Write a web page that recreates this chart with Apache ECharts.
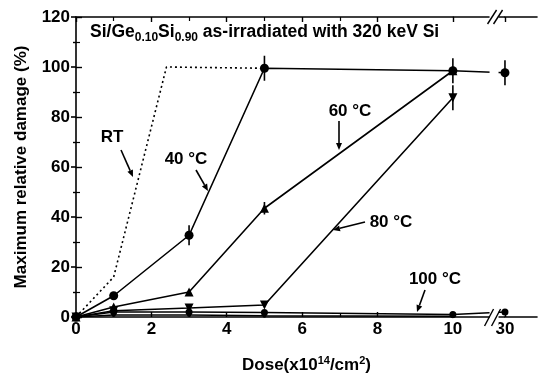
<!DOCTYPE html>
<html><head><meta charset="utf-8">
<script src="https://cdn.jsdelivr.net/npm/echarts@6/dist/echarts.min.js"></script>
<style>html,body{margin:0;padding:0;background:#fff}#c{width:539px;height:380px}</style>
</head><body><div id="c"></div>
<script>
// ---- data ----
const doses = [0, 1, 3, 5, 10, 30];
const rtDose = [0, 1, 2.4, 5];
const rtDamage = [0, 16, 100, 99.5];
const d40 = [0, 8.5, 32.7, 99.5, 98.5, 97.7];
const e40 = [0, 0, 4, 5, 5, 5];
const dose60 = [0, 1, 3, 5, 10];
const d60 = [0, 4, 10, 43.5, 98.5];
const e60 = [0, 0, 0, 2.5, 0];
const dose80 = [0, 1, 3, 5, 10];
const d80 = [0, 2.5, 3.6, 4.8, 87.7];
const e80 = [0, 0, 0, 0, 5];
const d100 = [0, 2, 2, 1.8, 1, 2];
const doseLow = [0, 1, 3, 5, 10];
const dLow = [0, 0.8, 0.8, 0.5, 0.3];
const xBreak = { start: 10, end: 30 };
const xMin = 0, xMax = 30.85, xInterval = 2;
const yMin = 0, yMax = 120, yInterval = 20;

const FONT = '"Liberation Sans", Arial, Helvetica, sans-serif';
const pairs = (xs, ys) => xs.map((x, i) => [x, ys[i]]);

function errSeries(xs, ys, es) {
  const data = [];
  xs.forEach((x, i) => { if (es[i] > 0) data.push([x, ys[i] - es[i], ys[i] + es[i]]); });
  return {
    type: 'custom', xAxisIndex: 0, yAxisIndex: 0, data, z: 4, silent: true,
    encode: { x: 0, y: [1, 2] },
    renderItem: (params, api) => {
      const lo = api.coord([api.value(0), api.value(1)]);
      const hi = api.coord([api.value(0), api.value(2)]);
      return { type: 'line', shape: { x1: lo[0], y1: lo[1], x2: hi[0], y2: hi[1] },
        style: { stroke: '#000', lineWidth: 1.6 } };
    }
  };
}
function lineSeries(name, data, symbol, size, extra) {
  return Object.assign({
    name, type: 'line', data, symbol, symbolSize: size,
    lineStyle: { color: '#000', width: 1.6 },
    itemStyle: { color: '#000' }, z: 3, silent: true, animation: false
  }, extra || {});
}

function arrow(x1, y1, x2, y2) {
  const a = Math.atan2(y2 - y1, x2 - x1), L = 7, W = 3;
  const bx = x2 - L * Math.cos(a), by = y2 - L * Math.sin(a);
  const px = -Math.sin(a) * W, py = Math.cos(a) * W;
  return [
    { type: 'line', shape: { x1, y1, x2: bx, y2: by }, style: { stroke: '#000', lineWidth: 1.6 } },
    { type: 'polygon', shape: { points: [[x2, y2], [bx + px, by + py], [bx - px, by - py]] }, style: { fill: '#000' } }
  ];
}
function label(text, x, y) {
  return { type: 'text', x, y, style: { text, font: 'bold 17px ' + FONT, fill: '#000', textAlign: 'center', textVerticalAlign: 'middle' } };
}
function seg(x1, y1, x2, y2, z, w) {
  return { type: 'line', z: z, shape: { x1, y1, x2, y2 }, style: { stroke: '#000', lineWidth: w } };
}

const xCommon = {
  type: 'value', min: xMin, max: xMax, interval: xInterval,
  breaks: [{ start: xBreak.start, end: xBreak.end, gap: '11.3%' }],
  breakArea: { show: false, expandOnClick: false },
  breakLabelLayout: { moveOverlap: false },
  axisLine: { show: true, onZero: false, lineStyle: { color: '#000', width: 1.6 } },
  axisTick: { show: true, inside: true, length: 5, lineStyle: { color: '#000', width: 1.4 } },
  minorTick: { show: true, splitNumber: 2, length: 4, lineStyle: { color: '#000', width: 1.2 } },
  splitLine: { show: false }
};

const chart = echarts.init(document.getElementById('c'), null, { renderer: 'canvas' });
chart.setOption({
  animation: false,
  backgroundColor: '#fff',
  grid: { left: 76, right: 2, top: 17, bottom: 63, containLabel: false, outerBoundsMode: 'none' },
  xAxis: [
    Object.assign({}, xCommon, {
      position: 'bottom',
      name: '{b|Dose(x10}{s|14}{b|/cm}{s|2}{b|)}', nameLocation: 'middle', nameGap: 38,
      nameTextStyle: { rich: {
        b: { fontFamily: FONT, fontWeight: 'bold', fontSize: 17, color: '#000' },
        s: { fontFamily: FONT, fontWeight: 'bold', fontSize: 11, color: '#000', verticalAlign: 'top', padding: [0, 0, 10, 0] }
      } },
      axisLabel: { show: true, margin: 4, hideOverlap: false,
        fontFamily: FONT, fontWeight: 'bold', fontSize: 17, color: '#000',
        formatter: function (v) { const n = Number(v); const r = Math.round(n); return (Math.abs(n - r) < 1e-6 && r % 2 === 0) ? String(r) : ''; } }
    }),
    Object.assign({}, xCommon, { position: 'top', axisLabel: { show: false } })
  ],
  yAxis: [
    {
      type: 'value', min: yMin, max: yMax, interval: yInterval, position: 'left',
      name: 'Maximum relative damage (%)', nameLocation: 'middle', nameGap: 46, nameRotate: 90,
      nameTextStyle: { fontFamily: FONT, fontWeight: 'bold', fontSize: 17, color: '#000' },
      axisLine: { show: true, onZero: false, lineStyle: { color: '#000', width: 1.6 } },
      axisTick: { show: true, inside: true, length: 6, lineStyle: { color: '#000', width: 1.4 } },
      minorTick: { show: true, splitNumber: 2, length: 4, lineStyle: { color: '#000', width: 1.2 } },
      axisLabel: { margin: 6, fontFamily: FONT, fontWeight: 'bold', fontSize: 17, color: '#000' },
      splitLine: { show: false }
    },
    {
      type: 'value', min: yMin, max: yMax, interval: yInterval, position: 'right',
      axisLine: { show: false },
      axisTick: { show: true, inside: true, length: 5, lineStyle: { color: '#000', width: 1.6 } },
      minorTick: { show: true, splitNumber: 2, length: 3, lineStyle: { color: '#000', width: 1.4 } },
      axisLabel: { show: false }, splitLine: { show: false }
    }
  ],
  series: [
    lineSeries('RT', pairs(rtDose, rtDamage), 'none', 0, { lineStyle: { color: '#000', width: 1.6, type: [2, 3] } }),
    lineSeries('40 °C', pairs(doses, d40), 'circle', 9),
    lineSeries('60 °C', pairs(dose60, d60), 'triangle', 9),
    lineSeries('80 °C', pairs(dose80, d80), 'triangle', 9, { symbolRotate: 180 }),
    lineSeries('100 °C', pairs(doses, d100), 'circle', 7),
    lineSeries('100 °C b', pairs(doseLow, dLow), 'circle', 4),
    errSeries(doses, d40, e40),
    errSeries(dose60, d60, e60),
    errSeries(dose80, d80, e80)
  ]
});

// axis-break decoration, positioned from the chart's own scales
const pA = chart.convertToPixel({ gridIndex: 0 }, [xBreak.start, yMin]);
const pB = chart.convertToPixel({ gridIndex: 0 }, [xBreak.end, yMax]);
const xa = pA[0], xb = pB[0], yBot = pA[1], yTop = pB[1];
const mid = xa + (xb - xa) * 0.8;
chart.setOption({
  graphic: [
    { type: 'text', left: 90, top: 23, style: {
      text: '{b|Si/Ge}{s|0.10}{b|Si}{s|0.90}{b| as-irradiated with 320 keV Si}',
      rich: {
        b: { font: 'bold 17.5px ' + FONT, fill: '#000', height: 20 },
        s: { font: 'bold 12px ' + FONT, fill: '#000', height: 20, padding: [11, 0, 0, 0] }
      } } },
    label('RT', 112, 137),
    label('40 °C', 186, 159),
    label('60 °C', 350, 111),
    label('80 °C', 391, 222),
    label('100 °C', 435, 279),
    ...arrow(121, 150, 133, 177),
    ...arrow(196, 170, 208, 191),
    ...arrow(339, 121, 339, 150),
    ...arrow(365, 222, 333, 230),
    ...arrow(425, 290, 417, 312),
    seg(xa, yTop, xb, yTop, 1, 1.6),
    seg(xa, yBot, xb, yBot, 1, 1.6),
    { type: 'rect', z: 100, shape: { x: mid - 5, y: yTop - 9, width: 9, height: yBot - yTop + 18 }, style: { fill: '#fff' } },
    seg(mid - 10, yBot + 9, mid - 1, yBot - 8, 101, 1.4), seg(mid - 3, yBot + 9, mid + 6, yBot - 8, 101, 1.4),
    seg(mid - 7, yTop + 7, mid + 2, yTop - 7, 101, 1.4), seg(mid - 1, yTop + 7, mid + 8, yTop - 7, 101, 1.4)
  ]
});
</script></body></html>
